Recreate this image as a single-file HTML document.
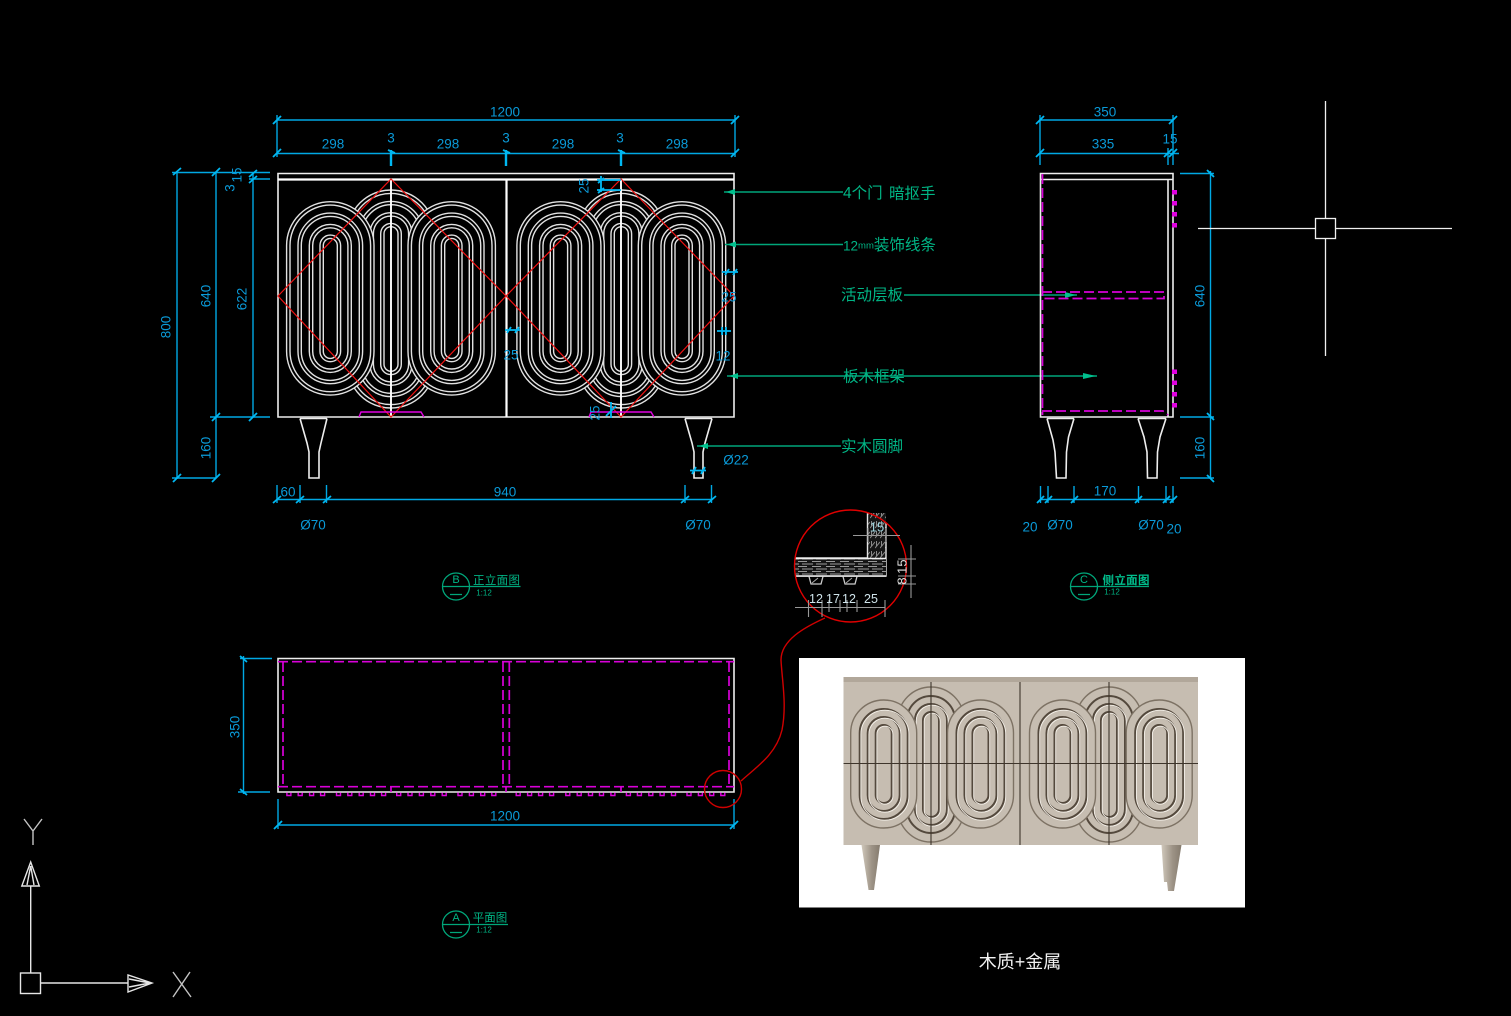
<!DOCTYPE html>
<html lang="zh">
<head>
<meta charset="utf-8">
<title>CAD</title>
<style>
html,body{margin:0;padding:0;background:#000;width:1511px;height:1016px;overflow:hidden}
svg{display:block;position:absolute;left:0;top:0;filter:blur(.35px)}
text{font-family:"Liberation Sans","Noto Sans CJK SC",sans-serif;dominant-baseline:central;text-anchor:middle}
.d{fill:#0a9ad8;font-size:13.5px}
.g{fill:#00b585;font-size:15.5px;text-anchor:start}
.ln{fill:none;stroke:#00a8e4;stroke-width:1.4}
.tk{fill:none;stroke:#00b8f2;stroke-width:1.8}
.gr{fill:none;stroke:#00a67a;stroke-width:1.4}
.w{fill:none;stroke:#eee;stroke-width:1.6}
.m{fill:none;stroke:#e000e0;stroke-width:1.4}
.md{fill:none;stroke:#d800d8;stroke-width:1.7;stroke-dasharray:10 4}
.r{fill:none;stroke:#f01212;stroke-width:1.2}
</style>
</head>
<body>
<svg width="1511" height="1016" viewBox="0 0 1511 1016" xmlns="http://www.w3.org/2000/svg">
<defs>
<g id="side" fill="none" stroke="#e2e2e2" stroke-width="1.4">
<rect x="-43.7" y="-96.7" width="87.4" height="193.4" rx="43.7" fill="#000"/>
<rect x="-40.3" y="-93.3" width="80.6" height="186.6" rx="40.3"/>
<rect x="-32.3" y="-85.3" width="64.6" height="170.6" rx="32.3"/>
<rect x="-29" y="-82" width="58" height="164" rx="29"/>
<rect x="-21" y="-74" width="42" height="148" rx="21"/>
<rect x="-17.6" y="-70.6" width="35.2" height="141.2" rx="17.6"/>
<rect x="-10.3" y="-63.3" width="20.6" height="126.6" rx="10.3"/>
<rect x="-7" y="-60" width="14" height="120" rx="7"/>
</g>
<g id="center" fill="none" stroke="#e2e2e2" stroke-width="1.4">
<rect x="-43.7" y="-109" width="87.4" height="218" rx="43.7" fill="#000"/>
<rect x="-40.3" y="-105.6" width="80.6" height="211.2" rx="40.3"/>
<rect x="-32.3" y="-97.6" width="64.6" height="195.2" rx="32.3"/>
<rect x="-29" y="-94.3" width="58" height="188.6" rx="29"/>
<rect x="-21" y="-86.3" width="42" height="172.6" rx="21"/>
<rect x="-17.6" y="-82.9" width="35.2" height="165.8" rx="17.6"/>
<rect x="-10.3" y="-75.6" width="20.6" height="151.2" rx="10.3"/>
<rect x="-7" y="-72.3" width="14" height="144.6" rx="7"/>
</g>
<g id="group">
<use href="#center" x="391" y="299"/>
<use href="#side" x="330.3" y="298.4"/>
<use href="#side" x="451.7" y="298.4"/>
</g>
<g id="ps" fill="none">
<rect x="-33" y="-64" width="66" height="128" rx="33" fill="#c6bdb1" stroke="#7d7264" stroke-width="1.4"/>
<rect x="-24" y="-55" width="48" height="110" rx="24" stroke="#54493d" stroke-width="2"/>
<rect x="-22.8" y="-53.8" width="48" height="110" rx="24" stroke="#f5f1ea" stroke-width=".9"/>
<rect x="-16" y="-47" width="32" height="94" rx="16" stroke="#54493d" stroke-width="2"/>
<rect x="-14.8" y="-45.8" width="32" height="94" rx="16" stroke="#f5f1ea" stroke-width=".9"/>
<rect x="-8" y="-39" width="16" height="78" rx="8" stroke="#54493d" stroke-width="2"/>
<rect x="-6.8" y="-37.8" width="16" height="78" rx="8" stroke="#f5f1ea" stroke-width=".9"/>
</g>
<g id="pc" fill="none">
<rect x="-33" y="-77.5" width="66" height="155" rx="33" fill="#c6bdb1" stroke="#7d7264" stroke-width="1.4"/>
<rect x="-24" y="-68.5" width="48" height="137" rx="24" stroke="#54493d" stroke-width="2"/>
<rect x="-16" y="-60.5" width="32" height="121" rx="16" stroke="#54493d" stroke-width="2"/>
<rect x="-14.8" y="-59.3" width="32" height="121" rx="16" stroke="#f5f1ea" stroke-width=".9"/>
<rect x="-8" y="-52.5" width="16" height="105" rx="8" stroke="#54493d" stroke-width="2"/>
<rect x="-6.8" y="-51.3" width="16" height="105" rx="8" stroke="#f5f1ea" stroke-width=".9"/>
</g>
<linearGradient id="leg" x1="0" x2="1" y1="0" y2="0">
<stop offset="0" stop-color="#d0c8bb"/><stop offset=".55" stop-color="#9d9386"/><stop offset="1" stop-color="#857b6e"/>
</linearGradient>
<pattern id="hatch" width="14" height="5" patternUnits="userSpaceOnUse">
<rect width="14" height="5" fill="#151515"/>
<path d="M0 1.5H9M4 4H14M0 4H1" stroke="#9a9a9a" stroke-width="1.1"/>
</pattern>
<pattern id="hatchv" width="5" height="10" patternUnits="userSpaceOnUse">
<rect width="5" height="10" fill="#151515"/>
<path d="M0 8L5 2M1.5 1V6" stroke="#8a8a8a" stroke-width="1"/>
</pattern>
</defs>

<!-- FRONT VIEW -->
<use href="#group"/>
<use href="#group" x="230.3"/>
<path class="w" d="M278 173.5H734V417H278Z"/>
<path d="M278 179.5H734M506.5 179V417" fill="none" stroke="#fff" stroke-width="2.2"/>
<path d="M391 179V417M621 179V417" fill="none" stroke="#fff" stroke-width="1.9"/>
<path class="r" d="M278 296L391 179L506 296L391 417ZM506 296L621 179L734 296L621 417Z"/>
<path class="m" d="M359 417L361 412H421L424 417M589 417L591 412H651L654 417" stroke-width="1.3"/>
<path class="w" stroke-width="1.4" d="M300 418.5H327M300 418.5L307 443L309 452V478H319V452L321 443L327 418.5M685 418.5H712M685 418.5L692 443L694 452V478H703V452L705 443L712 418.5"/>

<!-- front dims -->
<path class="ln" d="M277 115V157M735 115V157M277 120H735M277 153.5H735"/>
<path class="tk" d="M273 124L281 116M273 157L281 149M731 124L739 116M731 157L739 149"/>
<path d="M391 150V166M506 150V166M621 150V166" fill="none" stroke="#00b8f2" stroke-width="2.4"/>
<path class="tk" d="M388 150L395 153M503 150L510 153M618 150L625 153"/>
<text class="d" x="505" y="112">1200</text>
<text class="d" x="333" y="144">298</text>
<text class="d" x="448" y="144">298</text>
<text class="d" x="563" y="144">298</text>
<text class="d" x="677" y="144">298</text>
<text class="d" x="391" y="138">3</text>
<text class="d" x="506" y="138">3</text>
<text class="d" x="620" y="138">3</text>

<path class="ln" d="M177 171V479M216 172V478M253 172V417M172 172.5H270M249 179H270M210 417H270M172 478H216"/>
<path class="tk" d="M173 175L181 168M212 176L220 168M212 421L220 413M249 421L257 413M173 482L181 474M212 482L220 474M249 177L257 170M249 183L257 176"/>
<text class="d" transform="rotate(-90 166 327)" x="166" y="327">800</text>
<text class="d" transform="rotate(-90 206 296)" x="206" y="296">640</text>
<text class="d" transform="rotate(-90 242 299)" x="242" y="299">622</text>
<text class="d" transform="rotate(-90 230 188)" x="230" y="188">3</text>
<text class="d" transform="rotate(-90 237 175)" x="237" y="175">15</text>
<text class="d" transform="rotate(-90 206 448)" x="206" y="448">160</text>

<path class="ln" d="M277 485V503M300 485V503M326.5 485V503M685 485V503M711.5 485V503M277 499.5H711.5"/>
<path class="tk" d="M273 503L281 496M296 503L304 496M323 503L331 496M681 503L689 496M708 503L716 496"/>
<text class="d" x="288" y="492">60</text>
<text class="d" x="505" y="492">940</text>
<text class="d" x="313" y="525">Ø70</text>
<text class="d" x="698" y="525">Ø70</text>
<text class="d" x="736" y="460">Ø22</text>
<path class="tk" d="M690 470.5H706M692 474L696 467M701 474L705 467"/>

<!-- small door dims -->
<path class="tk" stroke-width="1.4" d="M505 330H520M507 333L511 327M515 333L519 327M597 180H621M597 190H621M601 176V192M598 183L604 178M598 193L604 188M722 272H738M725 275L729 269M733 275L737 269M717 331H731M722 327V335M726 327V335M606 416L616 406M611 402V418"/>
<text class="d" x="511" y="355">25</text>
<text class="d" x="729" y="297">25</text>
<text class="d" x="723" y="356">12</text>
<text class="d" transform="rotate(-90 584 186)" x="584" y="186">25</text>
<text class="d" transform="rotate(-90 595 413)" x="595" y="413">25</text>

<!-- leaders -->
<path class="gr" d="M724 192H843M725 244.5H843M904 295H1077M727 376H1097M697 446H841"/>
<path fill="#00c08e" d="M726 192L735 189V195ZM727 244.5L736 241.5V247.5ZM1076 295L1065 292V298ZM729 376L738 373V379ZM1096 376L1083 373V379ZM699 446L708 443V449Z"/>
<text class="g" x="843" y="193.5">4个门 <tspan dx="2">暗抠手</tspan></text>
<text class="g" x="843" y="245.5"><tspan font-size="13.5">12</tspan><tspan font-size="9.5">mm</tspan>装饰线条</text>
<text class="g" x="841" y="295.5">活动层板</text>
<text class="g" x="843" y="377">板木框架</text>
<text class="g" x="841" y="447">实木圆脚</text>

<!-- title marks -->
<g fill="none" stroke="#00a67a" stroke-width="1.3">
<circle cx="456" cy="586.5" r="13.5"/><path d="M442.5 586.5H520.5M450 594.5H462"/>
<circle cx="1084" cy="586.5" r="13.5"/><path d="M1070.5 586.5H1149M1078 594.5H1090"/>
<circle cx="456" cy="924.5" r="13.5"/><path d="M442.5 924.5H508M450 932.5H462"/>
</g>
<text x="456" y="580" fill="#00b585" font-size="11">B</text>
<text x="1084" y="580" fill="#00b585" font-size="11">C</text>
<text x="456" y="918" fill="#00b585" font-size="11">A</text>
<text x="496.5" y="581" fill="#00b585" font-size="11.5" textLength="47">正立面图</text>
<text x="484" y="593" fill="#00b585" font-size="8">1:12</text>
<text x="1126" y="581" fill="#00c08e" font-size="11.5" font-weight="bold" textLength="47">侧立面图</text>
<text x="1112" y="592" fill="#00b585" font-size="8">1:12</text>
<text x="490" y="918.5" fill="#00b585" font-size="11.5">平面图</text>
<text x="484" y="930" fill="#00b585" font-size="8">1:12</text>

<!-- SIDE VIEW -->
<path class="w" d="M1040.5 173.5H1173V417H1040.5Z"/>
<path class="w" stroke-width="1.9" d="M1041 179.5H1173"/>
<path class="w" d="M1168 179.5V417"/>
<path class="md" d="M1042.5 174V415M1042 411H1163L1168 415"/>
<path class="md" d="M1042 292H1164V298.5H1042"/>
<path fill="#e000e0" stroke="#e000e0" stroke-width="1" d="M1172.5 190.5h4v3.5h-4zM1172.5 201.5h4v3.5h-4zM1172.5 212.5h4v3.5h-4zM1172.5 223.5h4v3.5h-4zM1172.5 370h4v3.5h-4zM1172.5 381h4v3.5h-4zM1172.5 392.5h4v3.5h-4zM1172.5 403.5h4v3.5h-4z"/>
<path class="w" stroke-width="1.4" d="M1047 418.5H1074M1047 418.5L1053 440L1055 452L1056.5 478H1066L1066.5 452L1068.5 437L1074 418.5M1138 418.5H1166M1138 418.5L1144 437L1147 452L1147.5 478H1157L1157.5 452L1160 437L1166 418.5"/>
<path class="ln" d="M1040 115V165M1173 115V165M1168 148V165M1040 120H1173M1040 153.5H1179"/>
<path class="tk" d="M1036 124L1044 116M1036 157L1044 149M1169 124L1177 116M1164 157L1172 149M1169 157L1177 149"/>
<text class="d" x="1105" y="112">350</text>
<text class="d" x="1103" y="144">335</text>
<text class="d" x="1170" y="139">15</text>
<path class="ln" d="M1210.5 171V479M1180 173.5H1214M1180 417H1214M1180 478H1214"/>
<path class="tk" d="M1207 170L1214 177M1207 413L1214 420M1207 475L1214 482"/>
<text class="d" transform="rotate(-90 1200 296)" x="1200" y="296">640</text>
<text class="d" transform="rotate(-90 1200 448)" x="1200" y="448">160</text>
<path class="ln" d="M1040.5 486V503M1048 486V503M1074 486V503M1138.5 486V503M1166 486V503M1173 486V503M1040.5 499.5H1173"/>
<path class="tk" d="M1037 503L1044 496M1045 503L1052 496M1071 503L1078 496M1135 503L1142 496M1163 503L1170 496M1170 503L1177 496"/>
<text class="d" x="1105" y="491">170</text>
<text class="d" x="1030" y="527">20</text>
<text class="d" x="1060" y="525">Ø70</text>
<text class="d" x="1151" y="525">Ø70</text>
<text class="d" x="1174" y="529">20</text>

<!-- CROSSHAIR -->
<path d="M1325.5 101V218M1325.5 239V356M1198 228.5H1315M1336 228.5H1452" stroke="#f0f0f0" stroke-width="1.3" fill="none"/>
<rect x="1315.5" y="218.5" width="20" height="20" fill="none" stroke="#f0f0f0" stroke-width="1.3"/>

<!-- PLAN VIEW -->
<path class="w" d="M278 658.5H734V792H278Z"/>
<path class="md" d="M278 661.7H734M283 662V787M729 662V787M278 786.7H734M503 662V787M509.3 662V787"/>
<path stroke="#e000e0" stroke-width="1.6" fill="none" d="M391 787V792M506 787V792M621 787V792"/>
<path fill="none" stroke="#e000e0" stroke-width="1.4" d="M286.900 792.500v3h4v-3M298.200 792.500v3h4v-3M309.600 792.500v3h4v-3M320.600 792.500v3h4v-3M336.500 792.500v3h4v-3M347.800 792.500v3h4v-3M359.200 792.500v3h4v-3M370.500 792.500v3h4v-3M381.600 792.500v3h4v-3M396.700 792.500v3h4v-3M408 792.500v3h4v-3M419.400 792.500v3h4v-3M430.800 792.500v3h4v-3M442.200 792.500v3h4v-3M458 792.500v3h4v-3M469.400 792.500v3h4v-3M480.700 792.500v3h4v-3M491.800 792.500v3h4v-3M516.200 792.500v3h4v-3M527.600 792.500v3h4v-3M538.600 792.500v3h4v-3M549.600 792.500v3h4v-3M565.800 792.500v3h4v-3M577.200 792.500v3h4v-3M588.500 792.500v3h4v-3M599.500 792.500v3h4v-3M610.900 792.500v3h4v-3M626.400 792.500v3h4v-3M637.400 792.500v3h4v-3M648.800 792.500v3h4v-3M660.100 792.500v3h4v-3M671.500 792.500v3h4v-3M687 792.500v3h4v-3M698.400 792.500v3h4v-3M709.700 792.500v3h4v-3M720.800 792.500v3h4v-3"/>
<path class="ln" d="M243.500 656V794M240 658.500H272M238 792H270M278 799V829M734 799V829M278 825H734"/>
<path class="tk" d="M240 656L247 662M240 789L247 795M274 829L282 821M730 829L738 821"/>
<text class="d" transform="rotate(-90 235 727)" x="235" y="727">350</text>
<text class="d" x="505" y="816">1200</text>

<!-- RED CONNECTOR -->
<circle cx="723" cy="789" r="18.5" fill="none" stroke="#d00000" stroke-width="1.4"/>
<path fill="none" stroke="#d00000" stroke-width="1.4" d="M741 781C755 768 776 755 782 730C787 705 782 680 781 660C781 640 805 627 825 618"/>

<!-- DETAIL -->
<rect x="867.5" y="513" width="18.5" height="46" fill="url(#hatchv)"/>
<path d="M867.5 513V558M886 523V576H795M795 558H867.5" fill="none" stroke="#e4e4e4" stroke-width="1.4"/>
<rect x="795" y="559" width="91" height="17" fill="url(#hatch)"/>
<path d="M795 558.500H886M795 576H886" stroke="#eee" stroke-width="1.5" fill="none"/>
<path d="M809 576.500L811 584H821L823 576.500M843 576.500L845 584H855L857 576.500" fill="none" stroke="#ccc" stroke-width="1.3"/>
<path d="M812 583L818 578M846 583L852 578" stroke="#aaa" fill="none"/>
<circle cx="850.5" cy="566" r="56" fill="none" stroke="#e00000" stroke-width="1.4"/>
<path d="M795 607.500H885M808.500 600V617M822 600V617M829 600V612M840 600V612M847 600V612M857 600V612M885 600V617M853 535.500H900M868 528V542M886 528V542M911 545V598M898 559H916M898 576H916M898 584H916" stroke="#999" stroke-width="1.1" fill="none"/>
<text x="816" y="599" fill="#cfe3ea" font-size="12.5">12</text>
<text x="833" y="599" fill="#cfe3ea" font-size="12.5">17</text>
<text x="849" y="599" fill="#cfe3ea" font-size="12.5">12</text>
<text x="871" y="599" fill="#cfe3ea" font-size="12.5">25</text>
<text x="877" y="527" fill="#9fd3dd" font-size="13">15</text>
<text transform="rotate(-90 902 572)" x="902" y="572" fill="#e0e0e0" font-size="13">8 15</text>

<!-- PHOTO -->
<rect x="799" y="658" width="446" height="249.5" fill="#fff"/>
<rect x="843.5" y="677" width="354.5" height="168" fill="#c6bdb1"/>
<rect x="843.5" y="677" width="354.5" height="5" fill="#b1a79a"/>
<use href="#pc" x="931" y="764.5"/>
<use href="#ps" x="883.7" y="764"/>
<use href="#ps" x="980.500" y="764"/>
<use href="#pc" x="1109" y="764.500"/>
<use href="#ps" x="1062.500" y="764"/>
<use href="#ps" x="1159.200" y="764"/>
<path d="M843.500 763.500H1198M931 682V845M1020 682V845M1109 682V845" stroke="#3e352b" stroke-width="1.1" fill="none"/>
<path d="M861.500 845H880L874 890H868.500Z" fill="url(#leg)"/>
<path d="M1161.500 845H1181.500L1174 891H1168L1167 882H1164Z" fill="url(#leg)"/>

<text x="1020" y="962" fill="#f2f2f2" font-size="18">木质+金属</text>

<!-- UCS -->
<g fill="none" stroke="#e6e6e6" stroke-width="1.4">
<rect x="20.500" y="973" width="20" height="20.500"/>
<path d="M30.700 973V886M41 983H128"/>
<path d="M30.700 862L21.800 886H39.300ZM128 975V992L152 983ZM30.700 866L27 885M30.700 866L34 885M150 983L129 979M150 983L129 987"/>
<path d="M24 819L33 831L42 819M33 831V845M173 972L191 997M190 972L173 997" stroke="#c4c4c4"/>
</g>
</svg>
</body>
</html>
